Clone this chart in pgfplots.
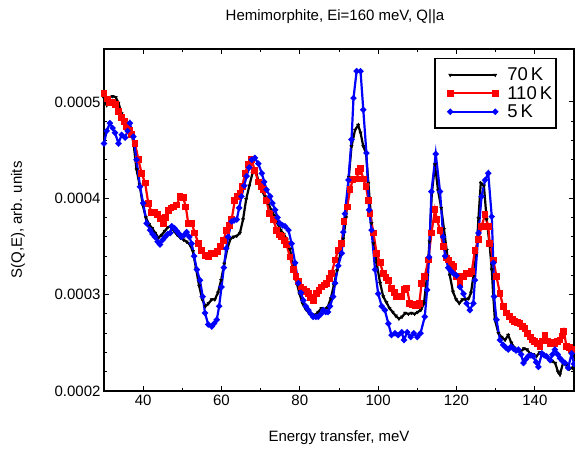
\documentclass[border=0pt]{standalone}
\usepackage{pgfplots}
\pgfplotsset{compat=1.18}
\usepackage{fontspec}
\setmainfont{Liberation Sans}
\begin{document}
\begin{tikzpicture}
\begin{axis}[
  at={(0pt,0pt)}, anchor=south west,
  scale only axis, width=470pt, height=342pt,
  xmin=30, xmax=150, ymin=2, ymax=5.55,
  xtick={40,60,80,100,120,140}, minor x tick num=1,
  ytick={2,3,4,5}, yticklabels={0.0002,0.0003,0.0004,0.0005}, minor y tick num=4,
  tick align=inside, tick pos=both,
  major tick length=5pt, minor tick length=3pt,
  tick style={line width=1pt, black},
  axis line style={line width=2.5pt},
  /pgf/number format/assume math mode=true,
  tick label style={font=\fontsize{15}{17}\selectfont},
  xlabel={Energy transfer, meV}, ylabel={S(Q,E), arb. units},
  label style={font=\fontsize{15}{17}\selectfont},
  xlabel style={at={(axis description cs:0.5,-0.1374)}, anchor=center},
  ylabel style={at={(axis description cs:-0.183,0.5)}, anchor=center},
  legend style={at={(rel axis cs:0.9638,0.9737)}, anchor=north east, draw=black, line width=1.5pt,
    font=\fontsize{18.5}{18.5}\selectfont, row sep=0pt, inner xsep=3pt, inner ysep=7pt,
    nodes={inner xsep=1pt}},
  legend cell align=left,
  legend image code/.code={\draw[#1] plot coordinates {(0pt,0pt) (45pt,0pt)}; \path (-11pt,0pt) (55pt,0pt);},
]
\addplot[black, line width=2.2pt, mark=triangle*, mark size=1.8pt, mark options={rotate=180, line width=0.5pt}] coordinates {
(30.0,5.04)(30.7,4.97)(31.4,5.05)(32.2,5.06)(33.0,5.05)(33.7,4.99)(34.5,4.88)(35.3,4.80)(36.1,4.76)(36.9,4.71)
(37.6,4.55)(38.3,4.30)(39.1,4.14)(39.9,3.93)(40.7,3.80)(41.5,3.73)(42.3,3.69)(43.1,3.64)(43.9,3.59)(44.7,3.62)
(45.5,3.66)(46.3,3.70)(47.1,3.71)(47.9,3.66)(48.7,3.62)(49.5,3.59)(50.3,3.57)(51.1,3.55)(51.9,3.52)(52.7,3.45)
(53.5,3.27)(54.3,3.09)(55.1,2.95)(55.9,2.88)(56.7,2.91)(57.5,2.95)(58.3,2.95)(59.1,3.02)(59.9,3.15)(60.7,3.32)
(61.5,3.48)(62.3,3.58)(63.1,3.60)(63.9,3.61)(64.7,3.64)(65.5,3.78)(66.3,3.99)(67.1,4.13)(67.9,4.26)(68.7,4.28)
(69.5,4.18)(70.3,4.08)(71.1,4.02)(71.9,3.95)(72.7,3.88)(73.5,3.82)(74.3,3.74)(75.1,3.67)(75.9,3.63)(76.7,3.57)
(77.5,3.47)(78.3,3.29)(79.1,3.14)(79.9,3.01)(80.7,2.91)(81.5,2.85)(82.3,2.81)(83.1,2.79)(83.9,2.79)(84.7,2.82)
(85.5,2.86)(86.3,2.85)(87.1,2.87)(87.9,2.96)(88.7,3.10)(89.5,3.25)(90.3,3.42)(91.1,3.58)(91.8,3.80)(92.5,4.22)
(93.2,4.54)(94.1,4.71)(94.9,4.76)(95.5,4.68)(96.2,4.54)(96.9,4.47)(97.5,4.16)(98.3,3.74)(98.8,3.53)(99.6,3.33)
(100.5,3.12)(101.3,2.98)(102.1,2.92)(102.9,2.86)(103.7,2.82)(104.5,2.78)(105.3,2.75)(106.1,2.77)(106.9,2.81)(107.7,2.80)
(108.5,2.81)(109.3,2.80)(110.1,2.82)(110.9,2.84)(111.7,2.91)(112.5,3.20)(113.1,3.55)(113.7,4.05)(114.5,4.35)(115.3,4.08)
(116.1,3.90)(116.8,3.68)(117.5,3.46)(118.3,3.20)(119.1,3.03)(119.9,2.95)(120.7,2.91)(121.5,2.95)(122.3,2.95)(123.1,2.96)
(123.7,3.02)(124.3,3.19)(125.1,3.43)(125.6,3.79)(126.2,4.16)(127.0,4.13)(127.7,3.78)(128.5,3.50)(129.0,3.26)(129.4,2.98)
(129.8,2.74)(130.7,2.60)(131.5,2.56)(132.4,2.53)(133.2,2.58)(134.0,2.50)(134.8,2.45)(135.6,2.42)(136.4,2.41)(137.2,2.44)
(138.0,2.43)(138.8,2.39)(139.6,2.38)(140.4,2.36)(141.2,2.40)(142.0,2.38)(142.8,2.36)(143.6,2.33)(144.4,2.31)(145.2,2.29)
(145.9,2.20)(146.4,2.17)(147.2,2.29)(148.0,2.27)(148.8,2.23)(149.6,2.24)(150.0,2.26)
};
\addlegendentry{70\,K}
\addplot[red, line width=2.2pt, mark=square*, mark size=2.3pt] coordinates {
(30.0,5.09)(30.8,5.03)(31.5,4.99)(32.3,5.00)(33.0,4.97)(33.7,4.90)(34.5,4.84)(35.2,4.80)(35.8,4.74)(36.5,4.70)
(37.1,4.66)(37.9,4.57)(38.8,4.40)(39.6,4.26)(40.5,4.16)(41.3,3.95)(42.2,3.85)(43.0,3.85)(43.7,3.83)(44.4,3.79)
(45.1,3.74)(45.7,3.80)(46.4,3.87)(47.1,3.90)(47.8,3.91)(48.6,3.93)(49.4,4.02)(50.2,4.01)(50.9,3.91)(51.5,3.74)
(52.4,3.74)(53.2,3.64)(54.1,3.53)(54.9,3.46)(55.8,3.41)(56.6,3.40)(57.4,3.43)(58.2,3.43)(59.0,3.45)(59.8,3.50)
(60.5,3.56)(61.3,3.67)(62.0,3.72)(62.6,3.78)(63.4,3.98)(64.1,4.02)(64.7,4.05)(65.3,4.12)(66.0,4.26)(66.8,4.35)
(67.7,4.40)(68.5,4.29)(69.4,4.17)(70.1,4.12)(70.7,4.09)(71.5,3.98)(72.2,3.84)(73.2,3.78)(74.1,3.67)(74.8,3.62)
(75.4,3.60)(76.0,3.56)(76.6,3.52)(77.5,3.39)(78.3,3.26)(79.0,3.19)(79.6,3.14)(80.3,3.08)(80.9,3.05)(81.6,3.03)
(82.2,3.01)(82.8,2.97)(83.4,2.94)(84.3,3.01)(84.9,3.04)(85.6,3.08)(86.2,3.10)(86.8,3.12)(87.5,3.17)(88.1,3.22)
(89.0,3.36)(89.8,3.46)(90.7,3.53)(91.3,3.76)(92.1,3.91)(92.8,4.09)(93.5,4.19)(94.0,4.20)(94.5,4.20)(95.0,4.28)
(95.5,4.31)(96.2,4.20)(96.9,4.12)(97.5,3.98)(97.9,3.84)(98.8,3.64)(99.6,3.43)(100.5,3.33)(101.3,3.22)(102.0,3.18)
(102.6,3.15)(103.4,3.06)(104.1,3.02)(104.7,2.98)(105.4,2.98)(106.0,2.98)(106.7,3.05)(107.3,3.07)(108.1,2.91)(108.7,2.90)
(109.4,2.89)(110.0,2.89)(110.5,2.91)(111.1,3.12)(111.9,3.19)(112.8,3.36)(113.6,3.64)(114.5,3.88)(115.0,3.78)(115.8,3.67)
(116.6,3.50)(117.5,3.38)(117.9,3.36)(118.7,3.31)(119.2,3.29)(120.0,3.19)(120.9,3.12)(121.8,3.19)(122.6,3.22)(123.3,3.22)
(123.9,3.24)(124.7,3.46)(125.6,3.57)(126.4,3.71)(127.3,3.83)(128.1,3.71)(128.5,3.53)(129.4,3.36)(130.2,3.19)(131.1,3.01)
(131.9,2.88)(132.8,2.81)(133.6,2.77)(134.3,2.74)(134.9,2.72)(135.6,2.71)(136.2,2.70)(136.9,2.67)(137.5,2.65)(138.1,2.60)
(138.8,2.56)(139.4,2.53)(140.0,2.51)(140.7,2.49)(141.3,2.46)(142.0,2.52)(142.6,2.58)(143.3,2.52)(143.9,2.49)(144.5,2.50)
(145.1,2.49)(145.8,2.51)(146.4,2.53)(147.0,2.57)(147.4,2.62)(148.1,2.46)(148.8,2.45)(149.4,2.43)(150.0,2.43)
};
\addlegendentry{110\,K}
\addplot[blue, line width=2.2pt, mark=*, mark size=1.8pt] coordinates {
(30.0,4.57)(30.7,4.70)(31.5,4.78)(32.2,4.73)(32.8,4.68)(33.7,4.57)(34.5,4.66)(35.4,4.63)(36.0,4.70)(36.6,4.78)
(37.5,4.64)(38.3,4.40)(39.2,4.12)(40.0,3.95)(40.9,3.74)(41.8,3.67)(42.4,3.63)(43.0,3.60)(43.7,3.55)(44.3,3.52)
(45.0,3.57)(45.6,3.60)(46.3,3.63)(46.9,3.64)(47.3,3.71)(48.0,3.69)(48.6,3.66)(49.2,3.63)(49.8,3.60)(50.5,3.62)
(51.1,3.65)(51.8,3.60)(52.4,3.53)(53.0,3.40)(53.7,3.26)(54.5,3.15)(55.2,2.98)(55.8,2.81)(56.6,2.69)(57.5,2.67)
(58.1,2.70)(58.8,2.74)(59.4,2.88)(60.0,3.08)(60.6,3.28)(61.2,3.48)(61.7,3.60)(62.6,3.76)(63.2,3.77)(63.9,3.78)
(64.5,3.90)(65.1,4.02)(65.8,4.13)(66.4,4.23)(67.1,4.32)(67.7,4.40)(68.5,4.42)(69.4,4.36)(70.3,4.26)(70.9,4.17)
(71.5,4.09)(72.4,4.02)(73.0,3.95)(73.7,3.88)(74.3,3.80)(74.9,3.74)(75.6,3.72)(76.2,3.71)(77.1,3.67)(77.9,3.53)
(78.8,3.33)(79.6,3.12)(80.3,3.02)(80.9,2.94)(81.5,2.88)(82.2,2.84)(82.8,2.80)(83.4,2.77)(84.1,2.77)(84.7,2.77)
(85.4,2.80)(86.0,2.84)(86.6,2.82)(87.2,2.82)(87.7,2.88)(88.5,2.98)(89.0,3.12)(89.8,3.30)(90.7,3.43)(91.1,3.65)
(91.5,3.84)(92.4,4.19)(93.2,4.61)(93.7,5.04)(94.5,5.32)(95.5,5.32)(96.2,4.92)(97.0,4.47)(97.7,3.88)(98.3,3.67)
(99.2,3.26)(100.0,3.01)(100.9,2.88)(101.7,2.84)(102.6,2.70)(103.4,2.58)(104.3,2.60)(105.1,2.58)(106.0,2.61)(106.6,2.53)
(107.4,2.61)(108.3,2.56)(109.1,2.60)(110.0,2.56)(110.8,2.60)(111.9,2.77)(112.5,3.05)(113.0,3.39)(113.6,4.07)(114.7,4.46)
(115.8,4.07)(116.6,3.60)(117.1,3.40)(117.9,3.28)(118.5,3.25)(119.2,3.22)(120.0,3.20)(120.9,3.08)(121.8,3.01)(122.6,2.91)
(123.4,2.84)(124.3,2.91)(124.7,3.15)(125.6,3.64)(126.4,4.02)(127.3,4.19)(128.1,4.26)(129.0,3.81)(129.4,3.33)(129.6,2.98)
(130.2,2.74)(131.1,2.53)(131.9,2.48)(132.6,2.45)(133.2,2.43)(133.9,2.46)(134.5,2.44)(135.2,2.42)(135.8,2.43)(136.5,2.38)
(137.1,2.29)(137.7,2.33)(138.3,2.36)(139.0,2.37)(139.6,2.36)(140.3,2.30)(140.9,2.25)(141.8,2.39)(142.4,2.37)(143.0,2.36)
(143.9,2.32)(144.5,2.38)(145.1,2.43)(145.8,2.38)(146.4,2.34)(147.1,2.31)(147.7,2.29)(148.5,2.24)(149.4,2.39)(150.0,2.28)
};
\addlegendentry{5\,K}
\end{axis}
\node[font=\fontsize{15}{17}\selectfont] at (231pt,374pt) {Hemimorphite, Ei=160 meV, Q||a};
\pgfresetboundingbox
\path[use as bounding box] (-104pt,-60pt) rectangle (471pt,391pt);
\end{tikzpicture}
\end{document}
